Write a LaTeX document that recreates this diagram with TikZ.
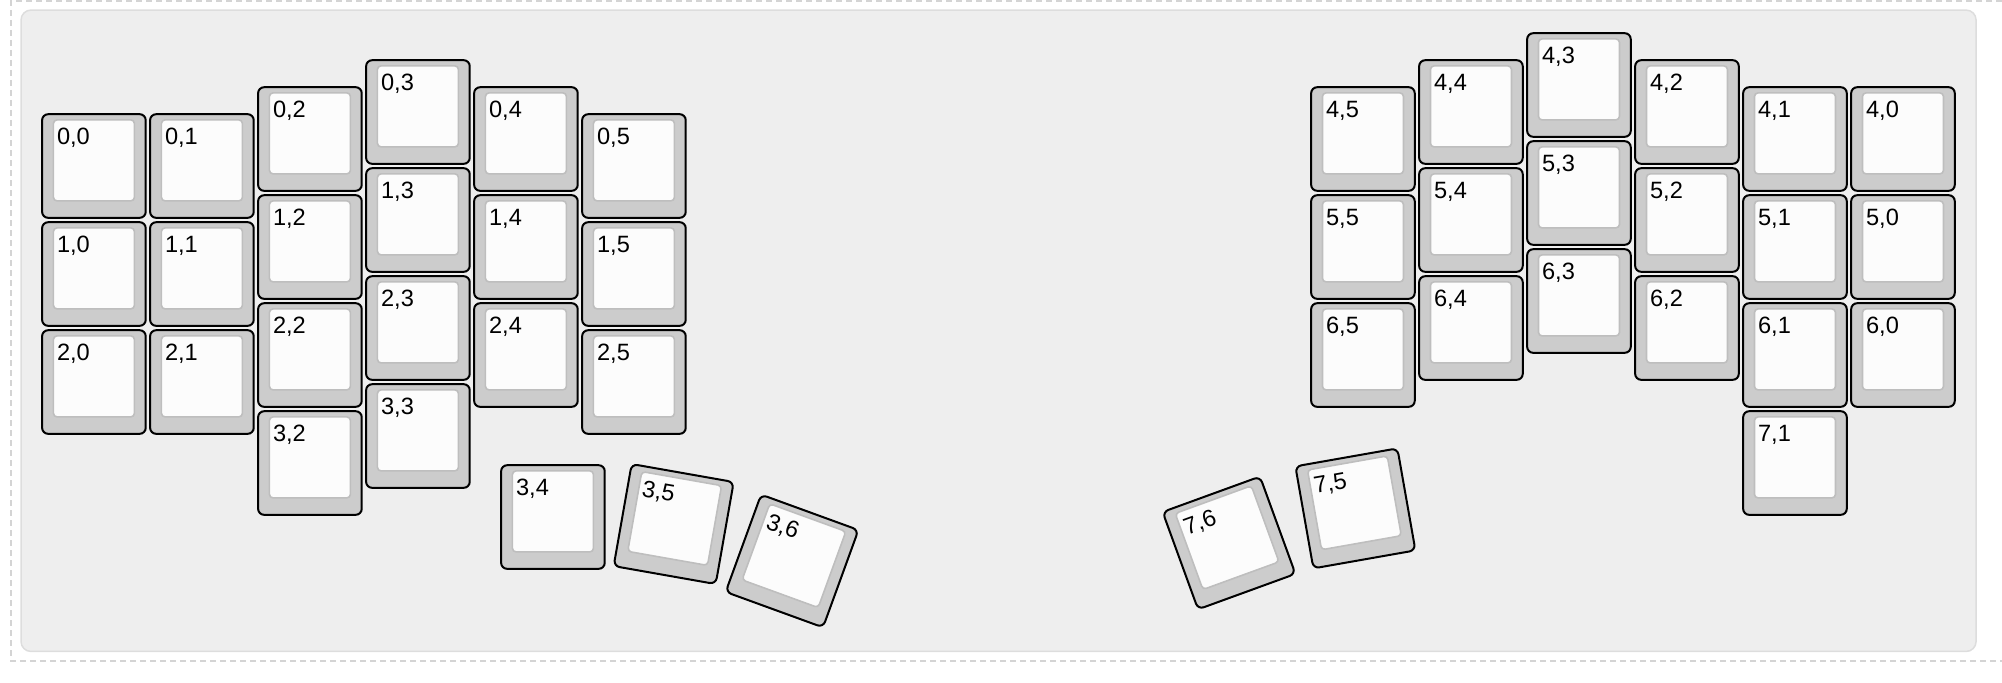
\documentclass[tikz,border=0pt]{standalone}
\usepackage{fontspec}
\newfontfamily\capfont{Liberation Sans}
\definecolor{bgfill}{RGB}{238, 238, 238}
\definecolor{bgline}{RGB}{221, 221, 221}
\definecolor{dashgray}{RGB}{212, 212, 212}
\definecolor{capgray}{RGB}{204, 204, 204}
\definecolor{facefill}{RGB}{252, 252, 252}
\definecolor{faceline}{RGB}{190, 190, 190}
\usepackage{tikz}
\usetikzlibrary{positioning, calc}

\begin{document}
\begin{tikzpicture}[
  x=54pt, y=-54pt,
  capbody/.style={draw=black, fill=capgray, line width=1pt, rounded corners=3pt, minimum size=51.8pt, inner sep=0pt},
  capface/.style={draw=faceline, fill=facefill, line width=0.8pt, rounded corners=1.8pt, minimum size=40.5pt, inner sep=0pt},
  caplabel/.style={anchor=base west, inner sep=0pt, font=\capfont\fontsize{11.8}{13}\selectfont},
  keycap/.pic={
    \node[capbody] (-body) at (0, 0) {};
    \node[capface] (-face) at (0, -0.052) {};
    \node[caplabel] (-label) at (-0.345, -0.199) {#1};
  }
]
  \useasboundingbox (-0.3696, -1.037) rectangle (18.167, 5.278);

  % Frame
  \draw[dashgray, line width=0.75pt, dash pattern=on 3pt off 2pt] (18.167, -1.028) -- (-0.268, -1.028) -- (-0.268, 5.083) -- (18.167, 5.083);
  \draw[bgline, fill=bgfill, line width=0.75pt, rounded corners=5pt] (-0.175, -0.944) rectangle (17.927, 4.995);

  % Left half
  \pic (k00) at (0.5, 0.5) {keycap={0,0}};
  \pic (k01) at (1.5, 0.5) {keycap={0,1}};
  \pic (k02) at (2.5, 0.25) {keycap={0,2}};
  \pic (k03) at (3.5, 0) {keycap={0,3}};
  \pic (k04) at (4.5, 0.25) {keycap={0,4}};
  \pic (k05) at (5.5, 0.5) {keycap={0,5}};

  \pic (k10) at (0.5, 1.5) {keycap={1,0}};
  \pic (k11) at (1.5, 1.5) {keycap={1,1}};
  \pic (k12) at (2.5, 1.25) {keycap={1,2}};
  \pic (k13) at (3.5, 1) {keycap={1,3}};
  \pic (k14) at (4.5, 1.25) {keycap={1,4}};
  \pic (k15) at (5.5, 1.5) {keycap={1,5}};

  \pic (k20) at (0.5, 2.5) {keycap={2,0}};
  \pic (k21) at (1.5, 2.5) {keycap={2,1}};
  \pic (k22) at (2.5, 2.25) {keycap={2,2}};
  \pic (k23) at (3.5, 2) {keycap={2,3}};
  \pic (k24) at (4.5, 2.25) {keycap={2,4}};
  \pic (k25) at (5.5, 2.5) {keycap={2,5}};

  \pic (k32) at (2.5, 3.25) {keycap={3,2}};
  \pic (k33) at (3.5, 3) {keycap={3,3}};

  % Left thumb cluster
  \pic (k34) at (4.75, 3.75) {keycap={3,4}};
  \pic[rotate=-10, transform shape] (k35) at (5.868, 3.815) {keycap={3,5}};
  \pic[rotate=-20, transform shape] (k36) at (6.964, 4.157) {keycap={3,6}};

  % Right half
  \pic (k45) at (12.25, 0.25) {keycap={4,5}};
  \pic (k44) at (13.25, 0) {keycap={4,4}};
  \pic (k43) at (14.25, -0.25) {keycap={4,3}};
  \pic (k42) at (15.25, 0) {keycap={4,2}};
  \pic (k41) at (16.25, 0.25) {keycap={4,1}};
  \pic (k40) at (17.25, 0.25) {keycap={4,0}};

  \pic (k55) at (12.25, 1.25) {keycap={5,5}};
  \pic (k54) at (13.25, 1) {keycap={5,4}};
  \pic (k53) at (14.25, 0.75) {keycap={5,3}};
  \pic (k52) at (15.25, 1) {keycap={5,2}};
  \pic (k51) at (16.25, 1.25) {keycap={5,1}};
  \pic (k50) at (17.25, 1.25) {keycap={5,0}};

  \pic (k65) at (12.25, 2.25) {keycap={6,5}};
  \pic (k64) at (13.25, 2) {keycap={6,4}};
  \pic (k63) at (14.25, 1.75) {keycap={6,3}};
  \pic (k62) at (15.25, 2) {keycap={6,2}};
  \pic (k61) at (16.25, 2.25) {keycap={6,1}};
  \pic (k60) at (17.25, 2.25) {keycap={6,0}};

  \pic (k71) at (16.25, 3.25) {keycap={7,1}};

  % Right thumb cluster
  \pic[rotate=20, transform shape] (k76) at (11.01, 3.99) {keycap={7,6}};
  \pic[rotate=10, transform shape] (k75) at (12.18, 3.67) {keycap={7,5}};
\end{tikzpicture}
\end{document}
